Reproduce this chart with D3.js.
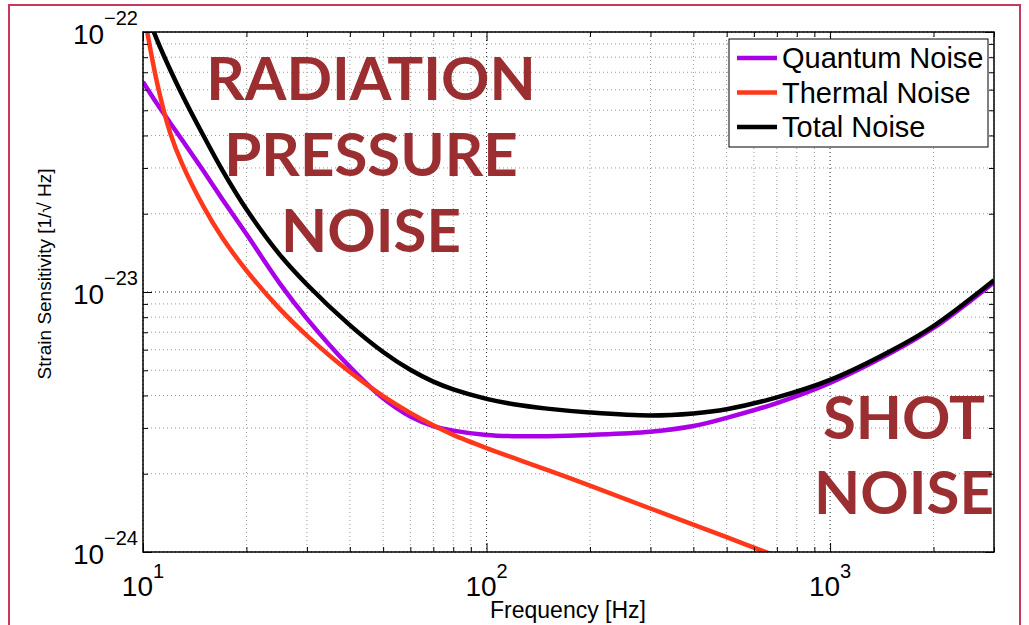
<!DOCTYPE html>
<html><head><meta charset="utf-8">
<script src="https://cdn.jsdelivr.net/npm/d3@7"></script>
<style>body{margin:0;background:#fff;} svg{display:block}</style>
</head><body>
<svg id="c" width="1029" height="625"></svg>
<script>
// ---- data ----
const freqs = [10,11,12,13,15,17,20,25,30,40,50,60,70,80,100,120,150,200,300,400,500,700,1000,1500,2000,3000];
const quantumNoise = [6.42e-23,5.28e-23,4.47e-23,3.84e-23,2.92e-23,2.28e-23,1.67e-23,1.08e-23,7.90e-24,5.15e-24,3.90e-24,3.32e-24,3.05e-24,2.93e-24,2.82e-24,2.79e-24,2.79e-24,2.82e-24,2.90e-24,3.05e-24,3.28e-24,3.74e-24,4.47e-24,5.82e-24,7.27e-24,1.09e-23];
const totalNoise = [1.285e-22,9.29e-23,7.16e-23,5.74e-23,3.99e-23,2.95e-23,2.08e-23,1.393e-23,1.069e-23,7.46e-24,5.88e-24,5.02e-24,4.52e-24,4.22e-24,3.88e-24,3.70e-24,3.56e-24,3.44e-24,3.35e-24,3.41e-24,3.54e-24,3.93e-24,4.59e-24,5.93e-24,7.40e-24,1.11e-23];
const thermalFreqs = [10,11,12,13,15,17,20,25,30,40,50,60,70,80,100,150,200,300,500,700];
const thermalNoise = [1.24e-22,6.34e-23,4.09e-23,3.11e-23,2.13e-23,1.62e-23,1.21e-23,8.61e-24,6.80e-24,4.92e-24,3.98e-24,3.43e-24,3.07e-24,2.82e-24,2.51e-24,2.07e-24,1.80e-24,1.47e-24,1.14e-24,9.62e-25];
const xTicks = [10,100,1000];
const xTickExps = ["1","2","3"];
const yTicks = [1e-24,1e-23,1e-22];
const yTickExps = ["\u221224","\u221223","\u221222"];
const seriesNames = ["Quantum Noise","Thermal Noise","Total Noise"];
const seriesColors = ["#a900e8","#ff381c","#000000"];
const xLabel = "Frequency [Hz]";
const yLabel = "Strain Sensitivity [1/\u221A Hz]";
const noteTop = ["RADIATION","PRESSURE","NOISE"];
const noteRight = ["SHOT","NOISE"];

// ---- layout ----
const L = 143, R = 994, T = 32, B = 552;
const svg = d3.select("#c");
const x = d3.scaleLog().domain([10,3000]).range([L,R]);
const y = d3.scaleLog().domain([1e-24,1e-22]).range([B,T]);
const font = "'Liberation Sans', Arial, Helvetica, sans-serif";

// outer frame
svg.append("rect").attr("x",9).attr("y",5).attr("width",1011).attr("height",640)
  .attr("fill","#fff").attr("stroke","#c8385c").attr("stroke-width",2);

// plot background
svg.append("rect").attr("x",L).attr("y",T).attr("width",R-L).attr("height",B-T).attr("fill","#fff");

// grid
const gx = x.ticks(), gy = y.ticks();
const isMajor = v => Math.abs(Math.log10(v) - Math.round(Math.log10(v))) < 1e-6;
const grid = svg.append("g");
grid.selectAll("line.gx").data(gx).join("line")
  .attr("x1",d=>x(d)).attr("x2",d=>x(d)).attr("y1",T).attr("y2",B)
  .attr("stroke",d=>isMajor(d)?"#222":"#9a9a9a").attr("stroke-width",1)
  .attr("stroke-dasharray","1,3");
grid.selectAll("line.gy").data(gy).join("line")
  .attr("y1",d=>y(d)).attr("y2",d=>y(d)).attr("x1",L).attr("x2",R)
  .attr("stroke",d=>isMajor(d)?"#222":"#9a9a9a").attr("stroke-width",1)
  .attr("stroke-dasharray","1,3");

// annotations (big text)
const ann = svg.append("g").attr("fill","#9b2e31").attr("font-family","Lato, 'Open Sans', sans-serif")
  .attr("font-weight",700).attr("font-size",60).attr("text-anchor","middle");
ann.selectAll("text.t").data(noteTop).join("text")
  .attr("x",371).attr("y",(d,i)=>100+i*76).text(d=>d);
ann.selectAll("text.r").data(noteRight).join("text")
  .attr("x",904).attr("y",(d,i)=>439+i*75).text(d=>d);

// curves
svg.append("clipPath").attr("id","clip").append("rect")
  .attr("x",L).attr("y",T).attr("width",R-L).attr("height",B-T);
const line = d3.line().x(d=>x(d[0])).y(d=>y(d[1])).curve(d3.curveCatmullRom.alpha(0.5));
const series = [
  d3.zip(freqs, quantumNoise),
  d3.zip(thermalFreqs, thermalNoise),
  d3.zip(freqs, totalNoise)
];
const curves = svg.append("g").attr("clip-path","url(#clip)");
series.forEach((s,i)=>{
  curves.append("path").attr("d",line(s)).attr("fill","none")
    .attr("stroke",seriesColors[i]).attr("stroke-width",4.5)
    .attr("stroke-linejoin","round");
});

// axes with inward ticks
const minorX = gx.filter(d=>!isMajor(d)), minorY = gy.filter(d=>!isMajor(d));
function addAxis(gen, scale, vals, size, tr){
  svg.append("g").attr("transform",tr)
    .call(gen(scale).tickValues(vals).tickSize(size).tickFormat(""))
    .call(g=>g.select(".domain").remove())
    .call(g=>g.selectAll("line").attr("stroke","#000").attr("stroke-width",1));
}
addAxis(d3.axisBottom, x, xTicks, -9, `translate(0,${B})`);
addAxis(d3.axisBottom, x, minorX, -5, `translate(0,${B})`);
addAxis(d3.axisTop, x, xTicks, -9, `translate(0,${T})`);
addAxis(d3.axisTop, x, minorX, -5, `translate(0,${T})`);
addAxis(d3.axisLeft, y, yTicks, -9, `translate(${L},0)`);
addAxis(d3.axisLeft, y, minorY, -5, `translate(${L},0)`);
addAxis(d3.axisRight, y, yTicks, -9, `translate(${R},0)`);
addAxis(d3.axisRight, y, minorY, -5, `translate(${R},0)`);
svg.append("rect").attr("x",L).attr("y",T).attr("width",R-L).attr("height",B-T)
  .attr("fill","none").attr("stroke","#000").attr("stroke-width",1.5);

// tick labels
const xl = svg.append("g").attr("font-family",font).attr("fill","#000");
xTicks.forEach((t,i)=>{
  const tx = xl.append("text").attr("x",x(t)).attr("y",596).attr("text-anchor","middle").attr("font-size",28);
  tx.append("tspan").text("10");
  tx.append("tspan").attr("dy",-18).attr("font-size",20).text(xTickExps[i]);
});
yTicks.forEach((t,i)=>{
  const ty = xl.append("text").attr("x",138).attr("y",y(t)+12).attr("text-anchor","end").attr("font-size",28);
  ty.append("tspan").text("10");
  ty.append("tspan").attr("dy",-19).attr("font-size",20).text(yTickExps[i]);
});

// axis labels
svg.append("text").attr("x",568).attr("y",618).attr("text-anchor","middle")
  .attr("font-family",font).attr("font-size",23).text(xLabel);
svg.append("text").attr("transform","translate(51,274) rotate(-90)").attr("text-anchor","middle")
  .attr("font-family",font).attr("font-size",19).text(yLabel);

// legend
const lg = svg.append("g");
lg.append("rect").attr("x",729).attr("y",39).attr("width",259).attr("height",108)
  .attr("fill","#fff").attr("stroke","#000").attr("stroke-width",1);
seriesNames.forEach((n,i)=>{
  const by = 68 + i*34.5;
  lg.append("line").attr("x1",737).attr("x2",777).attr("y1",by-10).attr("y2",by-10)
    .attr("stroke",seriesColors[i]).attr("stroke-width",4.5);
  lg.append("text").attr("x",782).attr("y",by).attr("font-family",font).attr("font-size",29).text(n);
});
</script>
</body></html>
